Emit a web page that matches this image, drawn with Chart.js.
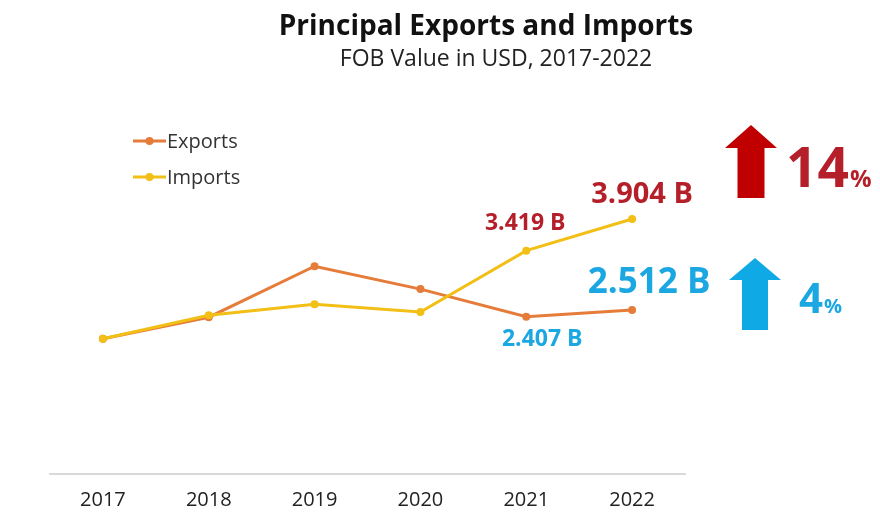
<!DOCTYPE html>
<html>
<head>
<meta charset="utf-8">
<script src="https://cdn.jsdelivr.net/npm/chart.js@4.4.0/dist/chart.umd.min.js"></script>
<style>
  html, body { margin: 0; padding: 0; background: #fff; }
  #wrap { width: 880px; height: 514px; position: relative; }
</style>
</head>
<body>
<div id="wrap"><canvas id="trade"></canvas></div>
<script>
const years = ['2017', '2018', '2019', '2020', '2021', '2022'];
const exportsUsd = [2.07, 2.40, 3.18, 2.83, 2.407, 2.512];
const importsUsd = [2.07, 2.43, 2.60, 2.48, 3.419, 3.904];
const titleText = 'Principal Exports and Imports';
const subtitleText = 'FOB Value in USD, 2017-2022';

const colors = {
  exports: '#e57c3a',
  imports: '#f2bf16',
  red: '#b41f2a',
  redArrow: '#c00000',
  blue: '#1ba7e1',
  blueArrow: '#0fa9e6'
};
const FONT = '"Open Sans", "Liberation Sans", sans-serif';

function growth(arr) {
  const n = arr.length;
  return Math.round((arr[n - 1] / arr[n - 2] - 1) * 100);
}

function drawArrow(ctx, x, top, w, headH, shaftW, bottom, color) {
  const cx = x + w / 2;
  ctx.beginPath();
  ctx.moveTo(cx, top);
  ctx.lineTo(x + w, top + headH);
  ctx.lineTo(cx + shaftW / 2, top + headH);
  ctx.lineTo(cx + shaftW / 2, bottom);
  ctx.lineTo(cx - shaftW / 2, bottom);
  ctx.lineTo(cx - shaftW / 2, top + headH);
  ctx.lineTo(x, top + headH);
  ctx.closePath();
  ctx.fillStyle = color;
  ctx.fill();
}

// titles, legend, value labels and growth arrows
const extras = {
  id: 'extras',
  afterDraw(chart) {
    const ctx = chart.ctx;
    const xs = chart.scales.x, ys = chart.scales.y;
    ctx.save();
    ctx.textBaseline = 'middle';
    ctx.textAlign = 'center';
    ctx.fillStyle = '#111';
    ctx.font = 'bold 28px ' + FONT;
    ctx.fillText(titleText, 486, 27);
    ctx.fillStyle = '#222';
    ctx.font = '23px ' + FONT;
    ctx.fillText(subtitleText, 496, 59);

    // legend
    const legendItems = [
      { label: 'Exports', color: colors.exports, y: 141 },
      { label: 'Imports', color: colors.imports, y: 177 }
    ];
    legendItems.forEach(it => {
      ctx.strokeStyle = it.color;
      ctx.lineWidth = 3;
      ctx.beginPath();
      ctx.moveTo(133, it.y);
      ctx.lineTo(166, it.y);
      ctx.stroke();
      ctx.fillStyle = it.color;
      ctx.beginPath();
      ctx.arc(149.5, it.y, 4, 0, Math.PI * 2);
      ctx.fill();
      ctx.fillStyle = '#333';
      ctx.font = '20px ' + FONT;
      ctx.textAlign = 'left';
      ctx.fillText(it.label, 167, it.y + 1);
    });

    // value labels for last two years
    const n = years.length;
    const px = i => xs.getPixelForValue(i);
    const lbl = (v, x, y, size, color) => {
      ctx.font = 'bold ' + size + 'px ' + FONT;
      ctx.fillStyle = color;
      ctx.textAlign = 'center';
      ctx.fillText(v.toFixed(3) + ' B', x, y);
    };
    lbl(importsUsd[n - 2], px(n - 2) - 1, ys.getPixelForValue(importsUsd[n - 2]) - 27, 23, colors.red);
    lbl(importsUsd[n - 1], px(n - 1) + 10, ys.getPixelForValue(importsUsd[n - 1]) - 24, 29, colors.red);
    lbl(exportsUsd[n - 2], px(n - 2) + 16, ys.getPixelForValue(exportsUsd[n - 2]) + 23, 23, colors.blue);
    lbl(exportsUsd[n - 1], px(n - 1) + 17, ys.getPixelForValue(exportsUsd[n - 1]) - 27, 35, colors.blue);

    // growth arrows
    drawArrow(ctx, 725, 125, 52, 23, 27, 198, colors.redArrow);
    drawArrow(ctx, 729, 258, 52, 22, 26, 330, colors.blueArrow);

    ctx.textBaseline = 'alphabetic';
    ctx.textAlign = 'left';
    ctx.fillStyle = colors.red;
    ctx.font = 'bold 55px ' + FONT;
    const g1 = String(growth(importsUsd));
    ctx.fillText(g1, 786, 187);
    let w = ctx.measureText(g1).width;
    ctx.font = 'bold 24px ' + FONT;
    ctx.fillText('%', 786 + w + 1, 187);

    ctx.fillStyle = colors.blue;
    ctx.font = 'bold 42px ' + FONT;
    const g2 = String(growth(exportsUsd));
    ctx.fillText(g2, 799, 313);
    w = ctx.measureText(g2).width;
    ctx.font = 'bold 20px ' + FONT;
    ctx.fillText('%', 799 + w + 1, 313);
    ctx.restore();
  }
};

new Chart(document.getElementById('trade'), {
  type: 'line',
  data: {
    labels: years,
    datasets: [
      {
        label: 'Exports',
        data: exportsUsd,
        borderColor: colors.exports,
        backgroundColor: colors.exports,
        borderWidth: 3,
        pointRadius: 4,
        pointBackgroundColor: colors.exports,
        pointBorderWidth: 0,
        tension: 0,
        order: 1
      },
      {
        label: 'Imports',
        data: importsUsd,
        borderColor: colors.imports,
        backgroundColor: colors.imports,
        borderWidth: 3,
        pointRadius: 4,
        pointBackgroundColor: colors.imports,
        pointBorderWidth: 0,
        tension: 0,
        order: 0
      }
    ]
  },
  options: {
    responsive: true,
    maintainAspectRatio: false,
    animation: false,
    layout: { padding: { left: 50, right: 195, top: 82, bottom: 4 } },
    plugins: {
      legend: { display: false },
      title: { display: false },
      tooltip: { enabled: false }
    },
    scales: {
      x: {
        offset: true,
        grid: { display: true, color: 'rgba(0,0,0,0)', drawTicks: false },
        border: { display: true, color: '#d9d9d9', width: 2 },
        ticks: { color: '#222', font: { family: FONT, size: 20 }, padding: 14 },
        afterFit(scale) { scale.height = 36; }
      },
      y: {
        display: false,
        min: 0,
        max: 6
      }
    }
  },
  plugins: [extras]
});
</script>
</body>
</html>
